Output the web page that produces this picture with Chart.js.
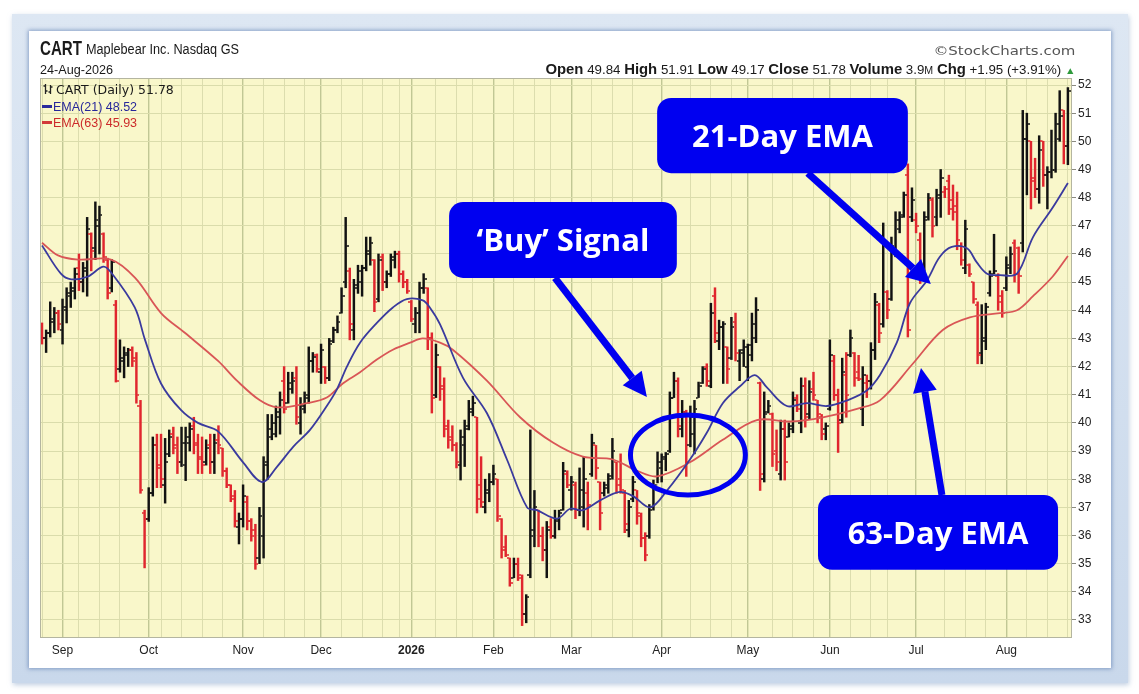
<!DOCTYPE html>
<html>
<head>
<meta charset="utf-8">
<title>CART Daily with EMA(21) and EMA(63)</title>
<script src="https://cdn.jsdelivr.net/npm/chart.js@4.4.1/dist/chart.umd.min.js"></script>
<style>
    html, body { margin: 0; padding: 0; background: #fff; }
    #page { position: relative; width: 1139px; height: 694px; overflow: hidden; font-family: "Liberation Sans", Arial, sans-serif; }
    #frame { position: absolute; left: 12px; top: 14px; width: 1116px; height: 669px; background: linear-gradient(#dde7f3, #c9d8eb); box-shadow: 1px 2px 5px rgba(140, 165, 200, .55); }
    #panel { position: absolute; left: 29px; top: 31px; width: 1082px; height: 637px; background: #fff; box-shadow: 0 0 4px 1px rgba(100, 130, 180, .7); }
    #wrap { position: absolute; left: 0; top: 0; width: 1139px; height: 694px; }
    .t { position: absolute; white-space: nowrap; line-height: 1; color: #1a1a1a; }
    .t b { font-size: 14px; }
    .mk { display: inline-block; width: 10px; height: 3px; vertical-align: middle; margin-right: 1px; position: relative; top: -1px; }
</style>
</head>
<body>
<div id="page">
    <div id="frame"></div>
    <div id="panel"></div>
    <div id="wrap"><canvas id="chart"></canvas></div>

    <div class="t fit" data-w="42" style="left:40px;top:37px;font-size:21px;font-weight:bold;">CART</div>
    <div class="t fit" data-w="153" style="left:86px;top:42px;font-size:14px;">Maplebear Inc. Nasdaq GS</div>
    <div class="t fit" data-w="73" style="left:40px;top:63px;font-size:13px;">24-Aug-2026</div>
    <div class="t fit right" data-w="142" style="right:64px;top:44px;font-size:13px;color:#555;font-family:'DejaVu Sans';">©StockCharts.com</div>
    <div class="t fit right" data-w="530" style="right:64px;top:62px;font-size:12.5px;">
        <b>Open</b> 49.84 <b>High</b> 51.91 <b>Low</b> 49.17 <b>Close</b> 51.78 <b>Volume</b> 3.9<span style="font-size:10px">M</span> <b>Chg</b> +1.95 (+3.91%) <span style="color:#2e9a3c;font-size:10px">▲</span>
    </div>

    <div class="t" style="left:43px;top:83px;font-size:12.5px;font-family:'DejaVu Sans';">
        <svg width="10" height="12" style="vertical-align:-1px;margin-right:3px"><path d="M2.5 1v10M0.5 3h2M2.5 8h2M7.5 2v9M5.5 9h2M7.5 4h2" stroke="#222" stroke-width="1.3" fill="none"/></svg>CART (Daily) 51.78
    </div>
    <div class="t" style="left:42px;top:101px;font-size:12.5px;color:#27279a;"><span class="mk" style="background:#2b2b9c"></span>EMA(21) 48.52</div>
    <div class="t" style="left:42px;top:117px;font-size:12.5px;color:#cc2a2a;"><span class="mk" style="background:#d23a3a"></span>EMA(63) 45.93</div>
</div>

<script>
// daily bars, 25-Aug-2025 .. 24-Aug-2026 (one entry per trading day)
const open = [
    43.4,43.0,43.2,43.6,43.9,43.3,44.0,44.5,44.7,45.5,
    45.0,45.4,46.7,46.2,47.0,46.7,45.8,44.8,44.2,41.9,
    42.2,42.4,42.6,42.3,40.6,36.8,36.6,37.5,39.2,38.5,
    37.8,38.9,39.6,39.2,38.6,38.5,39.3,39.9,39.3,38.8,
    38.6,39.2,38.6,39.4,39.1,38.3,37.8,37.4,36.3,36.6,
    37.2,36.5,36.2,35.2,36.0,38.6,39.5,39.6,40.2,41.5,
    40.7,41.2,41.6,40.0,40.5,41.0,42.2,42.4,41.8,42.0,
    41.6,42.9,43.3,43.9,45.0,45.4,43.3,44.8,45.0,45.5,
    46.0,45.8,44.4,45.9,45.0,45.3,45.8,46.0,45.3,45.0,
    44.3,43.5,43.9,44.8,44.8,43.0,41.0,42.0,41.3,39.9,
    39.5,39.2,38.5,39.2,39.9,40.4,40.2,37.8,37.0,37.5,
    37.9,38.0,36.6,35.6,35.2,34.5,35.0,34.5,33.2,34.6,
    36.2,36.9,36.0,35.5,36.3,36.0,36.5,36.9,38.2,37.6,
    37.8,36.9,37.0,37.5,38.2,39.2,37.9,37.5,37.7,38.1,
    38.6,38.0,37.5,36.2,37.3,37.6,36.7,35.9,36.0,37.0,
    37.8,38.4,38.7,39.0,40.9,41.5,39.8,40.4,39.2,39.6,
    40.9,41.4,42.0,41.3,44.5,42.9,43.4,42.7,42.3,43.6,
    42.2,42.5,42.0,42.4,43.0,41.4,38.0,40.4,40.3,39.0,
    38.2,39.8,39.5,39.8,40.9,40.0,41.3,40.3,41.2,40.8,
    40.2,39.8,40.5,42.2,41.0,40.1,41.7,42.4,42.5,41.8,
    40.5,41.4,41.5,42.6,44.2,43.5,44.65,44.4,46.0,46.9,
    47.4,48.8,47.3,47.2,46.5,45.5,47.3,47.9,47.3,48.0,
    48.2,48.6,47.9,47.7,46.3,45.5,45.6,45.0,44.2,42.5,
    43.0,44.6,45.3,45.2,44.5,44.8,45.5,46.4,46.2,46.4,
    50.1,50.0,48.6,48.3,50.0,48.8,48.9,49.0,50.1,51.1,
    49.84
];
const high = [
    43.55,43.3,44.3,44.1,44.0,44.4,44.8,45.0,45.5,46.0,
    45.7,47.3,46.75,47.85,47.7,46.75,45.85,45.8,44.35,42.95,
    42.7,42.65,42.7,42.5,40.8,36.9,37.7,39.5,39.6,39.6,
    39.45,39.75,39.85,39.5,39.85,39.85,40.0,40.2,39.6,39.5,
    39.4,39.6,39.6,39.9,39.1,38.4,37.8,37.6,36.8,37.8,
    37.4,36.6,36.4,37.0,38.8,40.3,40.3,40.6,41.1,42.0,
    41.8,41.8,42.0,40.9,41.1,42.7,42.5,42.45,42.8,42.0,
    43.0,43.4,43.8,44.8,47.3,45.5,45.1,45.6,45.6,46.6,
    46.6,45.8,46.0,46.0,45.4,46.0,46.1,46.1,45.4,45.1,
    44.35,44.1,45.0,45.3,44.8,43.2,42.8,42.0,41.6,40.1,
    39.9,39.3,39.75,40.1,40.8,40.95,40.2,38.8,38.0,38.2,
    38.5,38.0,36.6,36.0,35.2,35.2,35.2,34.6,33.9,39.75,
    37.6,36.9,36.3,36.5,36.6,36.9,36.9,38.6,38.3,38.1,
    37.9,38.4,38.8,37.9,39.6,39.2,37.9,37.9,38.2,39.45,
    38.6,38.9,37.6,37.25,38.1,37.6,36.8,36.1,37.1,37.97,
    38.97,38.9,38.95,41.1,41.8,41.6,40.8,40.45,40.6,40.8,
    41.45,42.0,42.1,44.25,44.8,43.65,43.6,42.7,43.75,43.9,
    42.6,42.95,42.8,43.9,44.45,41.45,41.1,40.8,40.35,39.75,
    40.1,40.1,40.0,41.1,41.0,41.6,41.6,41.5,41.8,40.8,
    40.3,40.0,42.95,42.4,41.2,42.3,42.5,43.3,42.5,42.4,
    42.0,41.7,42.85,44.6,44.25,47.1,44.7,46.6,47.5,47.5,
    48.2,49.2,48.35,47.45,46.75,47.5,48.15,48.0,48.3,49.0,
    48.4,48.8,48.45,48.2,46.4,47.2,45.65,45.0,44.3,44.2,
    44.25,45.4,46.7,45.3,44.7,45.9,46.25,46.5,46.25,51.1,
    51.0,50.0,49.4,50.2,50.0,49.1,50.4,51.0,51.8,51.1,
    51.91
];
const low = [
    42.8,42.5,43.05,43.2,43.3,42.8,43.55,44.1,44.4,44.7,
    44.65,44.5,45.4,45.8,46.0,45.7,44.4,44.65,41.45,41.8,
    41.6,42.0,42.0,40.7,37.5,34.85,36.5,37.4,37.7,37.7,
    37.15,38.8,38.9,38.2,38.45,37.95,39.0,38.9,38.2,38.2,
    38.5,38.2,38.2,38.9,38.1,37.7,37.2,36.3,35.7,36.3,
    36.2,35.8,34.8,35.0,35.2,38.0,39.4,39.5,39.6,40.35,
    40.7,41.05,39.95,39.6,40.35,40.7,41.8,41.8,41.4,41.4,
    41.5,42.85,43.2,43.9,44.8,42.95,42.95,44.6,44.5,45.4,
    45.6,43.95,44.3,44.7,44.8,45.2,45.5,45.0,44.8,44.6,
    43.6,43.2,43.2,44.6,42.6,40.35,40.9,40.8,39.5,39.1,
    39.0,38.4,37.97,38.45,39.75,40.25,36.8,37.0,36.8,37.2,
    37.8,36.5,35.2,35.25,34.2,34.5,34.4,32.8,32.9,34.5,
    35.6,35.6,35.1,34.5,35.9,35.9,36.2,36.9,37.7,36.9,
    36.6,36.7,36.3,36.2,38.1,38.0,36.2,37.4,37.5,38.0,
    37.5,37.5,36.1,35.95,37.2,36.4,35.6,35.1,35.9,36.9,
    37.87,37.9,38.3,38.95,40.9,39.5,39.5,38.1,39.15,38.9,
    40.9,41.4,41.3,41.25,42.85,42.6,41.4,41.4,42.25,42.2,
    41.5,42.0,41.5,42.2,42.85,37.6,37.9,40.35,38.45,38.3,
    37.97,37.97,39.5,39.65,40.4,39.65,39.85,40.15,40.8,40.0,
    39.4,39.4,40.45,40.8,38.95,40.0,40.2,42.35,41.3,41.5,
    39.9,40.9,41.2,42.25,42.85,43.4,43.7,44.35,45.9,46.75,
    47.3,43.05,47.15,46.75,44.95,45.4,47.2,46.6,47.0,47.3,
    48.0,47.4,47.2,46.15,45.6,45.3,45.2,44.25,42.1,42.1,
    42.6,44.5,45.3,44.0,43.75,44.7,45.3,45.0,44.6,46.07,
    48.1,47.6,48.0,47.8,48.4,47.6,48.7,48.9,50.0,49.2,
    49.17
];
const close = [
    43.0,43.2,43.7,43.9,43.5,44.1,44.6,44.8,45.3,45.0,
    45.5,46.9,46.1,47.2,47.4,45.9,44.6,45.7,41.5,42.3,
    42.5,42.6,42.2,41.0,37.6,36.6,37.5,39.2,38.4,38.0,
    38.6,39.5,39.1,38.6,39.3,39.5,39.8,39.2,38.7,38.5,
    39.1,38.6,39.3,39.2,38.3,37.8,37.3,36.5,36.6,37.4,
    36.5,36.0,35.0,36.7,38.5,39.8,40.0,40.4,40.8,40.5,
    41.4,41.5,40.2,40.6,40.9,42.2,42.35,41.9,42.6,41.6,
    42.8,43.3,43.6,44.5,46.3,43.5,44.9,45.4,45.5,46.1,
    46.4,44.3,45.8,45.0,45.3,45.9,46.0,45.3,45.0,44.7,
    43.7,43.9,44.8,45.1,43.0,40.9,42.4,41.2,39.8,39.4,
    39.2,38.6,39.5,39.8,40.5,40.7,37.3,37.2,37.6,37.9,
    38.2,36.7,35.5,35.3,34.3,35.0,34.6,33.2,33.8,36.0,
    37.0,36.0,35.5,36.2,36.0,36.6,36.8,38.3,37.8,37.9,
    36.9,37.6,38.0,37.1,39.3,38.4,36.8,37.8,38.0,39.0,
    37.8,37.6,36.4,37.0,37.9,36.8,35.9,35.3,36.9,37.7,
    38.6,38.8,38.9,40.9,41.5,39.9,40.4,38.6,40.2,40.5,
    41.3,41.9,41.5,43.9,43.2,43.4,43.5,41.9,43.4,42.5,
    42.6,42.7,42.75,43.5,44.0,38.2,40.3,40.6,38.9,38.6,
    39.8,38.6,39.9,40.8,40.5,41.3,40.2,41.1,41.0,40.3,
    39.6,39.9,42.4,41.0,40.0,41.8,41.0,43.0,41.6,41.55,
    41.7,41.5,42.6,44.3,43.2,46.5,44.0,46.3,47.2,47.3,
    48.1,43.3,47.9,47.0,45.4,47.2,48.0,47.0,48.1,48.7,
    48.3,47.6,47.5,46.5,45.8,46.9,45.3,44.4,42.4,42.9,
    44.1,45.2,45.4,44.3,43.9,45.6,46.0,45.3,45.2,50.1,
    50.6,48.7,48.3,49.7,48.8,48.9,49.0,50.6,50.9,49.83,
    51.78
];

// moving averages (x = trading-day index)
const ema21Day = [0,4.6,7.1,11.2,14.9,16.8,22.6,25.1,29,33.9,38,42.9,49,53.6,57.3,61.2,65.3,69.4,71.9,74.3,
    77.5,81.6,85.5,88.9,92.8,94.5,97,102.6,108.4,113.3,118.2,120.6,125.5,128.7,131.8,136,140.8,144,148.2,152.3,
    157.9,162,165.9,170.1,173.7,176.7,181.5,186.4,191.3,196.2,201,204.2,208.3,211.5,215.6,218.8,221.7,225.4,227.8,230.3,
    233.4,237.6,241.5,246.3,250];
const ema21 = [46.3,45.3,45.1,45.2,45.55,45.35,44.1,42.95,41.4,40.45,40.0,39.7,38.6,37.9,38.45,39.15,39.75,40.6,41.2,42.0,
    42.85,43.55,44.1,44.4,44.35,44.1,43.5,41.6,40.35,38.7,37.0,36.9,36.6,36.95,36.9,37.25,37.55,37.4,37.0,37.6,
    38.7,39.65,40.7,41.3,41.7,41.25,40.6,40.7,40.6,40.8,41.15,41.7,42.85,44.25,45.05,45.9,46.25,46.2,45.7,45.3,
    45.25,45.3,46.6,47.65,48.52];
const ema63Day = [0,3.9,8.8,16.8,22.7,29,34.8,42.9,47.5,53.1,57.3,64.6,69.4,73.3,77.5,81.6,85.5,89.7,92.8,97,
    100.1,108.4,116.5,124.5,131.8,139.1,145,149.9,157.9,165.9,174.2,182.3,190.3,198.6,204.2,212.2,219.5,226.1,233.4,237.6,
    241.5,246.3,250];
const ema63 = [46.4,45.95,45.8,45.8,45.15,43.9,43.2,42.2,41.5,40.8,40.55,40.7,40.9,41.4,41.8,42.25,42.6,42.85,43.0,42.85,
    42.6,41.5,40.2,39.3,38.8,38.7,38.3,38.1,38.6,39.4,40.1,40.05,40.2,40.5,40.8,42.1,43.3,43.75,43.9,44.0,
    44.5,45.2,45.93];

// x axis: first trading day of each month, and of each week
const monthDay = [5, 26, 49, 68, 90, 110, 129, 151, 172, 192, 213, 235];
const monthLabel = ['Sep', 'Oct', 'Nov', 'Dec', '2026', 'Feb', 'Mar', 'Apr', 'May', 'Jun', 'Jul', 'Aug'];
const weekDay = [0,5,9,14,19,24,29,34,39,44,49,54,59,64,68,73,78,83,87,91,96,101,105,110,115,120,124,129,
    134,139,144,149,153,158,163,168,173,178,183,188,192,197,202,206,211,215,220,225,230,235,240,245,250];
const priceTicks = [33,34,35,36,37,38,39,40,41,42,43,44,45,46,47,48,49,50,51,52];

// callouts, positioned in chart units (day index, price)
const callouts = [
    { text: '‘Buy’ Signal', box: [99.2, 47.85, 154.7, 45.15], from: [125, 45.15], to: [147.4, 40.92] },
    { text: '21-Day EMA', box: [149.9, 51.54, 211, 48.87], from: [186.6, 48.87], to: [216.6, 44.93] },
    { text: '63-Day EMA', box: [189.1, 37.44, 247.6, 34.78], from: [219.3, 37.44], to: [214.2, 41.95] },
];
const ring = { day: 157.4, price: 38.86, rDay: 14.0, rPrice: 1.42 };

const UP = '#121212';
const DOWN = '#e0262e';
const NOTE = '#0000f0';

const barColor = close.map((c, i) => (c >= (i ? close[i - 1] : open[0]) ? UP : DOWN));

function tickImage(side, color) {
    const c = document.createElement('canvas');
    c.width = 6;
    c.height = 2;
    const g = c.getContext('2d');
    g.fillStyle = color;
    g.fillRect(side === 'open' ? 0 : 3.6, 0.25, 2.4, 1.5);
    return c;
}
const ticks = {
    open: { [UP]: tickImage('open', UP), [DOWN]: tickImage('open', DOWN) },
    close: { [UP]: tickImage('close', UP), [DOWN]: tickImage('close', DOWN) },
};

const gridDays = [...new Set([...monthDay, ...weekDay.filter(w => !monthDay.some(m => m !== w && Math.abs(m - w) < 3))])]
    .sort((a, b) => a - b);

const plotBackground = {
    id: 'plotBackground',
    beforeDraw(chart) {
        const { ctx, chartArea: a } = chart;
        ctx.save();
        ctx.fillStyle = '#f9f7ca';
        ctx.fillRect(a.left, a.top, a.right - a.left, a.bottom - a.top);
        ctx.restore();
    },
    afterDatasetsDraw(chart) {
        const { ctx, chartArea: a } = chart;
        ctx.save();
        ctx.strokeStyle = '#b4b5a0';
        ctx.lineWidth = 1;
        ctx.strokeRect(a.left + 0.5, a.top + 0.5, a.right - a.left - 1, a.bottom - a.top - 1);
        ctx.restore();
    },
};

function roundBox(g, x, y, w, h, r) {
    g.beginPath();
    g.moveTo(x + r, y);
    g.arcTo(x + w, y, x + w, y + h, r);
    g.arcTo(x + w, y + h, x, y + h, r);
    g.arcTo(x, y + h, x, y, r);
    g.arcTo(x, y, x + w, y, r);
    g.closePath();
}

function arrow(g, x1, y1, x2, y2) {
    const a = Math.atan2(y2 - y1, x2 - x1);
    const len = 24, half = 12;
    const bx = x2 - len * Math.cos(a), by = y2 - len * Math.sin(a);
    g.lineWidth = 7;
    g.beginPath();
    g.moveTo(x1, y1);
    g.lineTo(bx, by);
    g.stroke();
    g.beginPath();
    g.moveTo(x2, y2);
    g.lineTo(bx + half * Math.sin(a), by - half * Math.cos(a));
    g.lineTo(bx - half * Math.sin(a), by + half * Math.cos(a));
    g.closePath();
    g.fill();
}

const notes = {
    id: 'notes',
    afterDraw(chart) {
        const g = chart.ctx, x = chart.scales.x, y = chart.scales.y;
        g.save();
        g.strokeStyle = NOTE;
        g.fillStyle = NOTE;

        // ring around the crossover
        const cx = x.getPixelForValue(ring.day), cy = y.getPixelForValue(ring.price);
        const rx = x.getPixelForValue(ring.day + ring.rDay) - cx;
        const ry = y.getPixelForValue(ring.price - ring.rPrice) - cy;
        g.lineWidth = 5;
        g.beginPath();
        g.ellipse(cx, cy, rx, ry, 0, 0, Math.PI * 2);
        g.stroke();

        callouts.forEach(n => {
            arrow(g, x.getPixelForValue(n.from[0]), y.getPixelForValue(n.from[1]),
                x.getPixelForValue(n.to[0]), y.getPixelForValue(n.to[1]));
        });

        callouts.forEach(n => {
            const x0 = x.getPixelForValue(n.box[0]), y0 = y.getPixelForValue(n.box[1]);
            const x1 = x.getPixelForValue(n.box[2]), y1 = y.getPixelForValue(n.box[3]);
            g.fillStyle = NOTE;
            roundBox(g, x0, y0, x1 - x0, y1 - y0, 14);
            g.fill();
            g.fillStyle = '#fff';
            g.font = 'bold 31px "Open Sans"';
            g.textAlign = 'center';
            g.textBaseline = 'alphabetic';
            g.fillText(n.text, (x0 + x1) / 2, (y0 + y1) / 2 + 11.5);
        });
        g.restore();
    },
};

const pts = (xs, ys) => xs.map((v, i) => ({ x: v, y: ys[i] }));

new Chart(document.getElementById('chart'), {
    type: 'bar',
    data: {
        datasets: [
            {
                type: 'line', label: 'EMA(21)', data: pts(ema21Day, ema21), order: 0,
                borderColor: '#3a3a9e', borderWidth: 1.8, pointRadius: 0, tension: 0.35,
            },
            {
                type: 'line', label: 'EMA(63)', data: pts(ema63Day, ema63), order: 1,
                borderColor: '#d95656', borderWidth: 1.8, pointRadius: 0, tension: 0.35,
            },
            {
                type: 'line', label: 'Open', data: open.map((v, i) => ({ x: i, y: v })), order: 2,
                showLine: false, pointRadius: 2,
                pointStyle: c => ticks.open[barColor[c.dataIndex]],
            },
            {
                type: 'line', label: 'Close', data: close.map((v, i) => ({ x: i, y: v })), order: 2,
                showLine: false, pointRadius: 2,
                pointStyle: c => ticks.close[barColor[c.dataIndex]],
            },
            {
                type: 'bar', label: 'CART', data: high.map((h, i) => ({ x: i, y: [low[i], h] })), order: 3,
                backgroundColor: c => barColor[c.dataIndex], barThickness: 1.8, borderWidth: 0, grouped: false,
            },
        ],
    },
    options: {
        responsive: true,
        maintainAspectRatio: false,
        animation: false,
        events: [],
        layout: { padding: { left: 40, top: 78, right: 33, bottom: 32 } },
        plugins: { legend: { display: false }, tooltip: { enabled: false } },
        scales: {
            x: {
                type: 'linear',
                min: -0.49,
                max: 251,
                offset: false,
                afterBuildTicks: s => { s.ticks = gridDays.map(v => ({ value: v })); },
                afterFit: s => { s.height = 24; },
                ticks: {
                    autoSkip: false,
                    maxRotation: 0,
                    padding: 5,
                    color: '#222',
                    font: c => ({
                        family: 'Liberation Sans', size: 12,
                        weight: c.tick && monthLabel[monthDay.indexOf(c.tick.value)] === '2026' ? 'bold' : 'normal',
                    }),
                    callback: v => (monthDay.includes(v) ? monthLabel[monthDay.indexOf(v)] : ''),
                },
                grid: {
                    offset: false,
                    drawTicks: false,
                    color: c => (c.tick && monthDay.includes(c.tick.value) ? '#c1c795' : '#dcddae'),
                    lineWidth: c => (c.tick && monthDay.includes(c.tick.value) ? 1.4 : 1),
                },
                border: { display: false },
            },
            y: {
                type: 'linear',
                position: 'right',
                min: 32.36,
                max: 52.25,
                beginAtZero: false,
                afterBuildTicks: s => { s.ticks = priceTicks.map(v => ({ value: v })); },
                afterFit: s => { s.width = 34; },
                ticks: { color: '#222', padding: 2, font: { family: 'Liberation Sans', size: 12 } },
                grid: { color: '#dadcab', tickLength: 4, tickColor: '#8a8a80' },
                border: { display: false },
            },
        },
    },
    plugins: [plotBackground, notes],
});

// squeeze header strings to the widths they have in the original
document.querySelectorAll('.fit').forEach(el => {
    const k = +el.dataset.w / el.getBoundingClientRect().width;
    el.style.transformOrigin = el.classList.contains('right') ? 'right center' : 'left center';
    el.style.transform = 'scaleX(' + k + ')';
});
</script>
</body>
</html>
